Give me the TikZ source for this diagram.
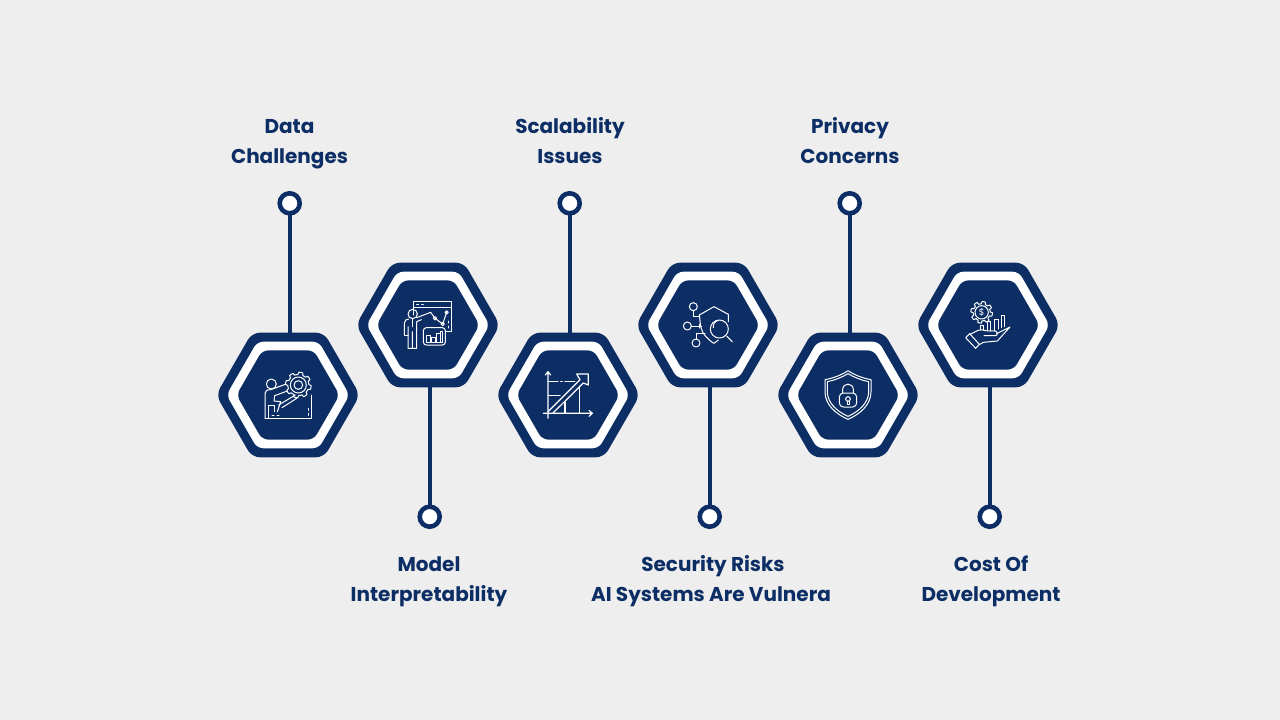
\documentclass[tikz,border=0pt]{standalone}
\usepackage{fontspec}
\setmainfont{Poppins}
\usetikzlibrary{shapes.geometric,positioning}
\definecolor{navy}{HTML}{0C2E65}
\definecolor{paper}{HTML}{EEEEEE}
\tikzset{%
  font=\bfseries\fontsize{20}{30}\selectfont,>=latex,
  hexa/.style={regular polygon,regular polygon sides=6,inner sep=0pt,outer sep=0pt},
  hexout/.style={hexa,fill=navy,minimum size=144pt,rounded corners=8pt},
  hexmid/.style={hexa,fill=white,minimum size=123pt,rounded corners=6pt},
  hexin/.style={hexa,fill=navy,minimum size=103pt,rounded corners=6pt},
  pin/.style={circle,draw=navy,fill=white,line width=4.6pt,minimum size=20pt,inner sep=0pt},
  stem/.style={draw=navy,line width=4pt},
  lbl/.style={text=navy,align=center,inner sep=0pt},
  ico/.style={draw=white,line width=1pt,line join=round,line cap=round,fill=none}
}
% gear outline: centre x, centre y, radius (in the icon's units)
\newcommand{\gearline}[3]{%
  \draw[ico] plot[domain=0:360,samples=145,variable=\t]
    ({#1+(#3+3.5*max(min(3*sin(8*\t),1),-1))*cos(\t)},{#2+(#3+3.5*max(min(3*sin(8*\t),1),-1))*sin(\t)});}
\begin{document}
\begin{tikzpicture}[x=1pt,y=-1pt]
	\node[fill=paper,minimum width=1280pt,minimum height=720pt,inner sep=0pt,outer sep=0pt,anchor=north west] (page) at (0,0) {};
	\useasboundingbox (0,0) rectangle (1280,720);
	% hexagons
	\foreach \i/\x/\y in {1/288/395,2/428/325,3/568/395,4/708/325,5/848/395,6/988/325} {
		\node[hexout] (hex\i) at (\x,\y) {};
		\node[hexmid] (ring\i) at (\x,\y) {};
		\node[hexin] (core\i) at (\x,\y) {};
	}
	% pins above and below
	\foreach \i/\x in {1/290,3/570,5/850} {
		\coordinate (top\i) at (\x,203);
		\draw[stem] (top\i) -- (top\i |- hex\i.north);
		\node[pin] (pin\i) at (\x-.3,203.3) {};
	}
	\foreach \i/\x in {2/430,4/710,6/990} {
		\coordinate (bot\i) at (\x,516);
		\draw[stem] (bot\i |- hex\i.south) -- (bot\i);
		\node[pin] (pin\i) at (\x-.3,516.7) {};
	}
	% labels
	\node[lbl] (t1) at (289.5,144) {Data\\Challenges};
	\node[lbl] (t2) at (429,582) {Model\\Interpretability};
	\node[lbl] (t3) at (570,141) {Scalability\\Issues};
	\node[lbl] (t4) at (711,581) {Security Risks\hspace*{-4pt}\\AI Systems Are Vulnera};
	\node[lbl] (t5) at (850,141) {Privacy\\Concerns};
	\node[lbl] (t6) at (991,581) {Cost Of\\Development};
	% icon 1
	\begin{scope}[shift={(core1.center)},x=.3333pt,y=-.3333pt]
		\gearline{31}{-30}{35}
		\draw[ico] (31,-30) circle (24) (31,-30) circle (13);
		\draw[ico] (-50,-33) circle (15);
		\draw[ico] (-69,70) -- (-69,-5) .. controls (-69,-14) and (-62,-16) .. (-52,-16) -- (-8,-32);
		\draw[ico] (-2,-12) -- (-40,2) -- (-42,18) -- (-22,20) -- (-32,50);
		\draw[ico] (-28,30) -- (22,0) (-18,38) -- (26,10);
		\draw[ico] (-58,70) -- (-58,30) -- (-40,30) -- (-40,50);
		\draw[ico] (71,0) -- (71,70) -- (-69,70);
		\draw[ico,dash pattern=on 2pt off 3pt] (-48,60) -- (-25,60) (60,40) -- (60,66);
	\end{scope}
	% icon 2
	\begin{scope}[shift={(core2.center)},x=.3333pt,y=-.3333pt]
		\draw[ico] (-44,-30) -- (-44,-70) -- (71,-70) -- (71,20) -- (54,20);
		\draw[ico] (-44,-52) -- (71,-52);
		\draw[ico,dash pattern=on 2pt off 3pt] (-34,-61) -- (-14,-61) (60,-12) -- (60,10);
		\draw[ico] (-46,-33) circle (14);
		\draw[ico] (-34,-22) -- (8,-38) -- (21,-20) -- (44,-3) -- (56,-38);
		\draw[ico] (21,-20) circle (5) (44,-3) circle (5) (56,-38) circle (5);
		\draw[ico] (-34,-10) -- (-20,-16);
		\draw[ico] (-71,30) -- (-71,-5) .. controls (-71,-14) and (-64,-18) .. (-58,-18) (-60,5) -- (-60,70) -- (-47,70) -- (-47,20) -- (-47,70) -- (-34,70) -- (-34,-8);
		\draw[ico] (-71,30) -- (-60,30) (-46,-18) -- (-46,5);
		\draw[ico,rounded corners=3pt] (-14,8) rectangle (52,60);
		\draw[ico] (-4,30) rectangle (6,52) (11,38) rectangle (22,52) (26,25) rectangle (36,52) (36,18) rectangle (44,52);
	\end{scope}
	% icon 3
	\begin{scope}[shift={(core3.center)},x=.3333pt,y=-.3333pt]
		\draw[ico,line width=1.2pt] (-60,70) -- (-60,-68) (-68,-60) -- (-60,-70) -- (-52,-60);
		\draw[ico,line width=1.2pt] (-74,55) -- (72,55) (63,46) -- (73,55) -- (63,64);
		\draw[ico,line width=1.2pt] (-60,-40) -- (-30,-40) (-22,-40) -- (-17,-40) (-9,-40) -- (20,-40);
		\draw[ico,line width=1.2pt] (-60,2) -- (-24,2) (-9,20) -- (-9,55) (34,-26) -- (34,55);
		\draw[ico,line width=1.2pt] (-60,50) -- (36,-46) -- (26,-63) -- (61,-63) -- (61,-30) -- (46,-36) -- (-46,55);
	\end{scope}
	% icon 4
	\begin{scope}[shift={(core4.center)},x=.3333pt,y=-.3333pt]
		\draw[ico] (-44,-55) circle (12) (-62,3) circle (12) (-36,54) circle (12);
		\draw[ico] (-44,-43) -- (-44,-25) -- (-26,-25);
		\draw[ico] (-50,3) -- (-19,3) (-26,-3) -- (-26,9);
		\draw[ico] (-36,42) -- (-36,25) -- (-9,25);
		\draw[ico] (-26,-30) -- (18,-55) -- (61,-32) -- (61,-10);
		\draw[ico] (-26,-30) -- (-22,5) .. controls (-18,25) and (0,45) .. (18,55) -- (31,45);
		\draw[ico] (34,12) circle (27);
		\draw[ico] (16,8) arc (170:260:19) ;
		\draw[ico] (56,33) -- (73,50);
	\end{scope}
	% icon 5
	\begin{scope}[shift={(core5.center)},x=.3333pt,y=-.3333pt]
		\draw[ico] (0,-73) .. controls (-22,-58) and (-48,-50) .. (-69,-46) -- (-69,-10) .. controls (-69,30) and (-35,58) .. (0,73) .. controls (35,58) and (69,30) .. (69,-10) -- (69,-46) .. controls (48,-50) and (22,-58) .. (0,-73) -- cycle;
		\draw[ico] (0,-64) .. controls (-20,-52) and (-42,-44) .. (-62,-40) -- (-62,-10) .. controls (-62,24) and (-32,50) .. (0,64) .. controls (32,50) and (62,24) .. (62,-10) -- (62,-40) .. controls (42,-44) and (20,-52) .. (0,-64) -- cycle;
		\draw[ico,rounded corners=4pt] (-26,-6) rectangle (26,36);
		\draw[ico] (-16,-6) -- (-16,-16) .. controls (-16,-38) and (16,-38) .. (16,-16) -- (16,-6);
		\draw[ico] (-3,18) -- (-3,28) -- (3,28) -- (3,18);
		\draw[ico] (0,12) circle (7);
	\end{scope}
	% icon 6
	\begin{scope}[shift={(core6.center)},x=.3333pt,y=-.3333pt]
		\gearline{-19}{-38}{29}
		\draw[ico] (-19,-38) circle (20);
		\node[text=white,inner sep=0pt,font=\fontsize{9}{9}\selectfont] (dollar) at (-19,-38) {\$};
		\draw[ico] (-24,15) -- (-24,0) -- (-14,0) -- (-14,15);
		\draw[ico] (-3,18) -- (-3,-10) -- (8,-10) -- (8,18);
		\draw[ico] (19,18) -- (19,-17) -- (30,-17) -- (30,12);
		\draw[ico] (40,8) -- (40,-29) -- (50,-29) -- (50,5);
		\draw[ico] (-67,38) -- (-55,26) -- (-26,58) -- (-37,70) -- cycle;
		\draw[ico] (-54,28) -- (-30,16) .. controls (-22,13) and (-14,14) .. (-8,17) -- (22,18) .. controls (30,20) and (30,31) .. (22,32) -- (-12,32);
		\draw[ico] (26,26) -- (66,6) -- (28,48) -- (-14,52) -- (-28,60);
	\end{scope}
\end{tikzpicture}
\end{document}
